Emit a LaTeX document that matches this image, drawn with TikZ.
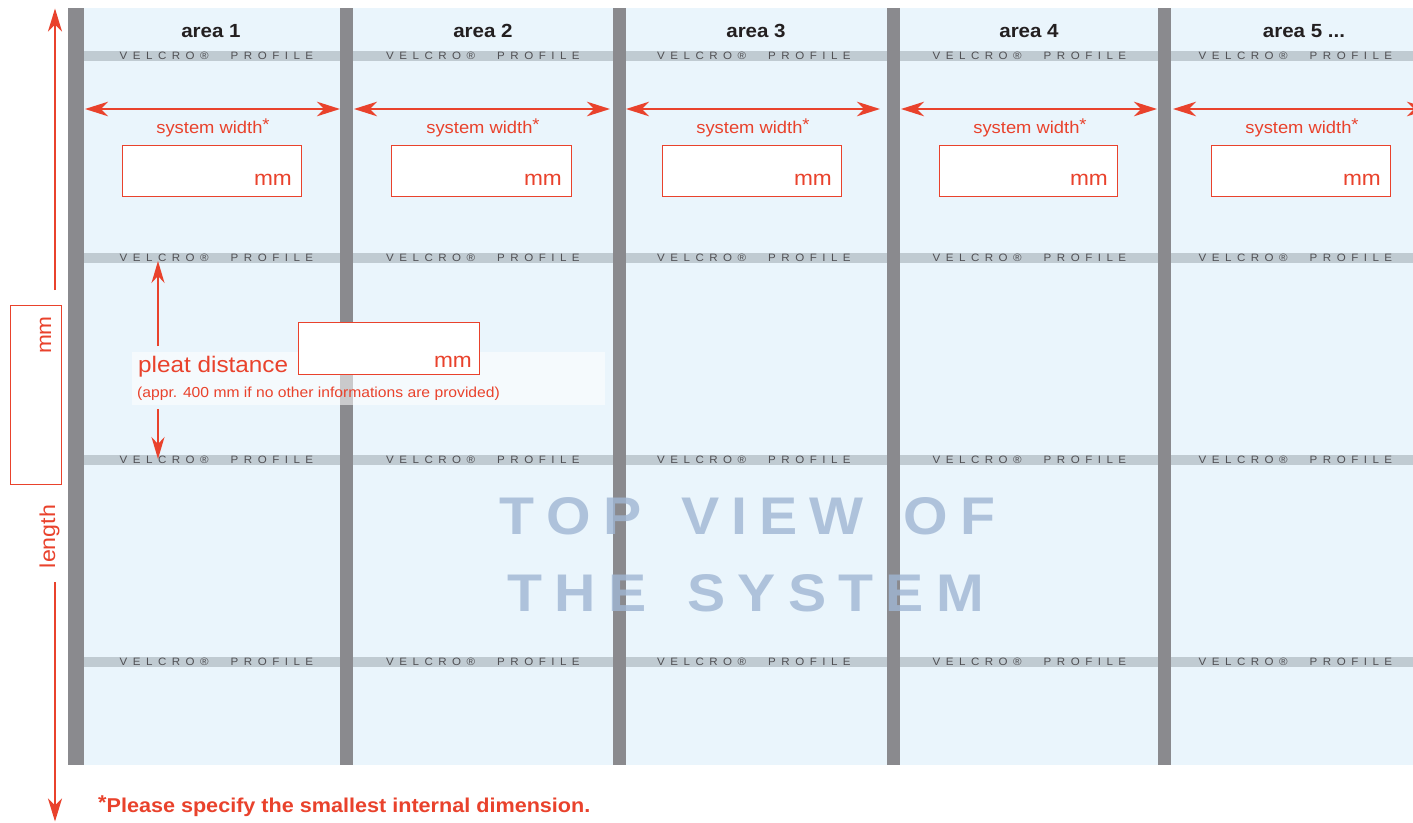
\documentclass[tikz,border=0pt]{standalone}
\usepackage{fontspec}
\setmainfont[FakeStretch=1.08]{Liberation Sans}
\usetikzlibrary{arrows.meta}
\definecolor{accent}{RGB}{233,66,44}
\definecolor{panelbg}{RGB}{234,245,252}
\definecolor{postgray}{RGB}{138,138,142}
\definecolor{bandgray}{RGB}{192,203,210}
\definecolor{bandtext}{RGB}{80,80,84}
\definecolor{titleblue}{RGB}{160,182,211}
\definecolor{labelblack}{RGB}{35,31,32}
\makeatletter
\def\trk#1#2{\def\trk@sep{\kern#1\relax}\trk@loop#2\relax}
\def\trk@loop#1{\ifx\relax#1\else#1\trk@sep\expandafter\trk@loop\fi}
\makeatother
\newcommand\wsp{\kern11pt\relax}
\newcommand\areafivelabel{area 5 ...}
\begin{document}
\begin{tikzpicture}[x=1pt,y=-1pt,
  dimarrow/.style={draw=accent, line width=2pt,
     {Stealth[length=23pt,width=14.5pt,inset=7pt]}-{Stealth[length=23pt,width=14.5pt,inset=7pt]}},
  onearrow/.style={draw=accent, line width=2pt, -{Stealth[length=23pt,width=14pt,inset=7pt]}},
  pleatarrow/.style={draw=accent, line width=1.6pt, -{Stealth[length=22pt,width=13pt,inset=7pt]}},
  inbox/.style={draw=accent, line width=1.4pt, fill=white, inner sep=0pt, anchor=north west},
  mmtext/.style={text=accent, inner sep=0pt, font=\fontsize{21}{24}\selectfont},
  swtext/.style={text=accent, inner sep=0pt, anchor=base, font=\fontsize{17}{20}\selectfont},
  arealabel/.style={text=labelblack, inner sep=0pt, anchor=base, font=\bfseries\fontsize{19}{22}\selectfont},
  velcro/.style={text=bandtext, inner sep=0pt, anchor=base west, font=\fontsize{10.7}{12}\selectfont},
  titletext/.style={text=titleblue, text opacity=0.8, inner sep=0pt, anchor=base west, font=\bfseries\fontsize{53}{60}\selectfont},
]
\useasboundingbox (0,0) rectangle (1413,822);
\begin{scope}
\clip (0,0) rectangle (1413,822);
\fill[white] (0,0) rectangle (1413,822);
% panel
\fill[panelbg] (68,8) rectangle (1413,765);
% velcro bands
\foreach \b in {0,1,2,3}{
  \fill[bandgray] (68,{51+202*\b}) rectangle (1413,{61+202*\b});
}
% band labels
\foreach \i/\vl in {1/119.5,2/386,3/657,4/932.5,5/1198.5}{
  \foreach \b in {0,1,2,3}{
    \node[velcro] (v\i-\b) at (\vl,{59.8+202*\b}) {\trk{5.5pt}{VELCRO®\wsp PROFILE}};
  }
}
% posts
\foreach \pl/\pr in {68/84,340/353,613/626,887/900,1158/1171}{
  \fill[postgray] (\pl,8) rectangle (\pr,765);
}
% title
\node[titletext] (title1) at (499.5,534) {\trk{12pt}{TOP~VIEW~OF}};
\node[titletext] (title2) at (507.5,611.7) {\trk{12.3pt}{THE~SYSTEM}};
% areas
\foreach \i/\lab/\lx/\sx/\bl/\br/\al/\ar in {
  1/area 1/211/213/122/301/85/340,
  2/area 2/483/483/391/571/354/610,
  3/area 3/756/753/662/841/626/880,
  4/area 4/1029/1030/939/1117/901/1157,
  5/\areafivelabel/1304/1302/1211/1390/1173/1430}{
  \node[arealabel] (lab\i) at (\lx,37) {\lab};
  \coordinate (al\i) at (\al,109);
  \coordinate (ar\i) at (\ar,109);
  \draw[dimarrow] (al\i) -- (ar\i);
  \node[swtext] (sw\i) at (\sx,133.3) {system width\raisebox{3pt}{*}};
  \node[inbox, minimum width={(\br-\bl)*1pt}, minimum height=51pt] (box\i) at (\bl,145) {};
  \node[mmtext, anchor=base east] (mm\i) at (\br-9,185) {mm};
}
% length indicator
\node[inbox, minimum width=51pt, minimum height=179pt] (lenbox) at (10,305) {};
\node[mmtext, rotate=90, anchor=base east] (lenmm) at (51,316) {mm};
\node[text=accent, inner sep=0pt, rotate=90, anchor=base, font=\fontsize{21.5}{24}\selectfont] (lenlabel) at (55,536.5) {length};
\coordinate (ltop) at (55,8.5);
\coordinate (lup) at (55,290);
\coordinate (ldown) at (55,582);
\coordinate (lbot) at (55,821.5);
\draw[onearrow] (lup) -- (ltop);
\draw[onearrow] (ldown) -- (lbot);
% pleat distance
\node[fill=white, fill opacity=0.55, inner sep=0pt, anchor=north west, minimum width=473pt, minimum height=53pt] (pleatbg) at (132,352) {};
\node[inbox, minimum width=181pt, minimum height=52pt] (pleatbox) at (298,322) {};
\node[mmtext, anchor=base east] (pleatmm) at (472,367) {mm};
\node[text=accent, inner sep=0pt, anchor=base west, font=\fontsize{22.5}{26}\selectfont] (pleatlab) at (138,372) {pleat distance};
\node[text=accent, inner sep=0pt, anchor=base west, font=\fontsize{14.5}{17}\selectfont] (pleatnote) at (137,397) {(appr. 400 mm if no other informations are provided)};
\coordinate (p1) at (158,261);
\coordinate (p2) at (158,346);
\coordinate (p3) at (158,409);
\coordinate (p4) at (158,459);
\draw[pleatarrow] (p2) -- (p1);
\draw[pleatarrow] (p3) -- (p4);
% footnote
\node[text=accent, inner sep=0pt, anchor=base west, font=\bfseries\fontsize{20}{24}\selectfont] (footnote) at (98,812) {\raisebox{3pt}{*}Please specify the smallest internal dimension.};
\end{scope}
\end{tikzpicture}
\end{document}
